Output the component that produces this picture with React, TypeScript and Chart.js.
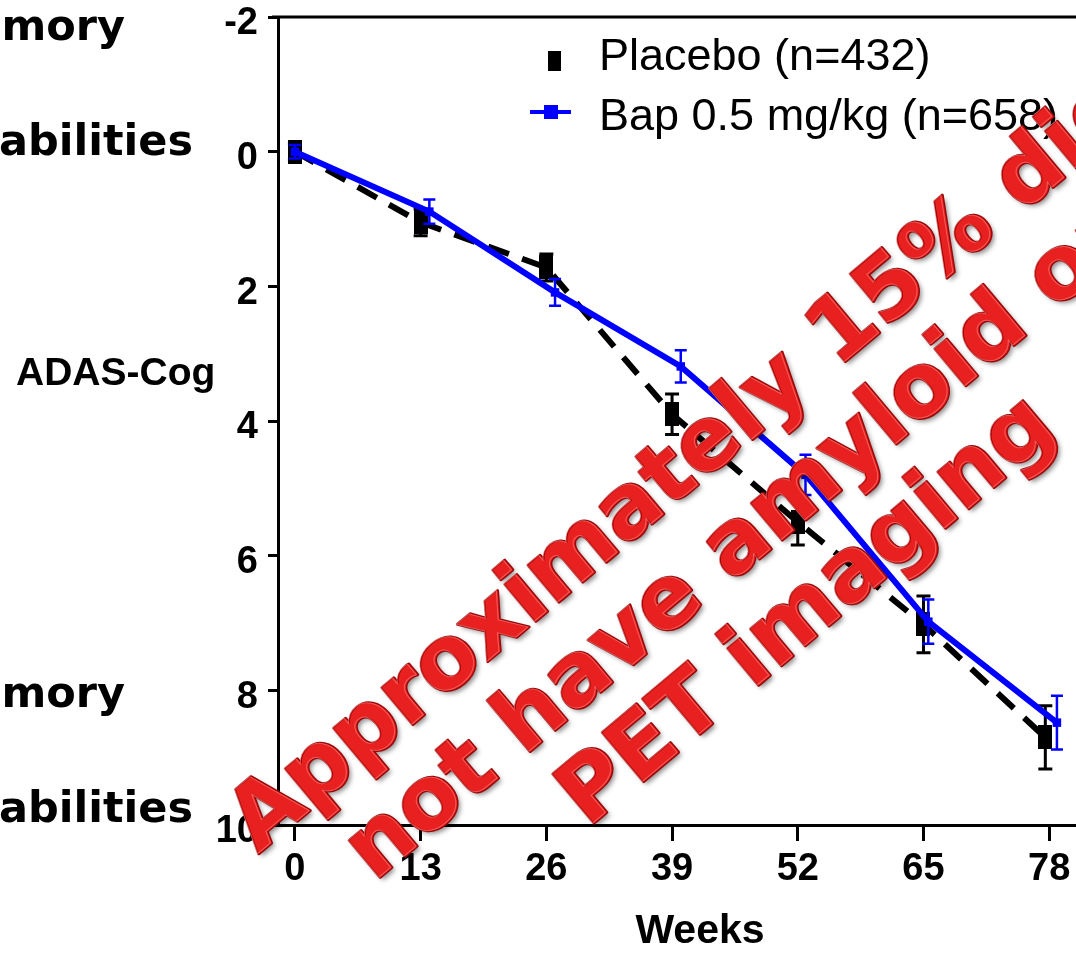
import React, { useEffect, useRef } from "react";
import { Chart, registerables } from "chart.js";
Chart.register(...registerables);

// ---- data ----
const weekTicks = [0, 13, 26, 39, 52, 65, 78];
const yTicks = [-2, 0, 2, 4, 6, 8, 10];
const placeboWeeks = [0, 13, 26, 39, 52, 65, 77.6];
const placeboMean = [0.0, 1.05, 1.72, 3.9, 5.5, 7.02, 8.7];
const placeboSE = [0.12, 0.2, 0.2, 0.3, 0.34, 0.42, 0.47];
const bapWeeks = [0, 13.9, 26.9, 39.9, 52.8, 65.5, 78.8];
const bapMean = [0.0, 0.89, 2.09, 3.19, 4.8, 6.98, 8.48];
const bapSE = [0.1, 0.18, 0.2, 0.24, 0.3, 0.33, 0.4];
const seriesLabels = ["Placebo (n=432)", "Bap 0.5 mg/kg (n=658)"];
const yAxisTitle = "ADAS-Cog";
const xAxisTitle = "Weeks";
const sideLabels = ["mory", "abilities", "mory", "abilities"];
const watermarkLines = ["Approximately 15% did", "not have amyloid on", "PET imaging"];

const ARIAL = '"Liberation Sans", Arial, sans-serif';
const VERDANA = '"DejaVu Sans", Verdana, sans-serif';

export default function App() {
  const ref = useRef<HTMLCanvasElement | null>(null);

  useEffect(() => {
    const canvas = ref.current;
    if (!canvas) return;

    const rectMarker = document.createElement("canvas");
    rectMarker.width = 14;
    rectMarker.height = 24;
    const rc = rectMarker.getContext("2d")!;
    rc.fillStyle = "#000";
    rc.fillRect(0, 0, 14, 24);

    const errorBars = {
      id: "errorBars",
      afterDatasetDraw(chart: any, args: any) {
        const ds = chart.data.datasets[args.index];
        const errs: number[] = ds.errors;
        if (!errs) return;
        const ys = chart.scales.y;
        const ctx = chart.ctx;
        ctx.save();
        ctx.strokeStyle = ds.borderColor;
        ctx.lineWidth = ds.errWidth;
        args.meta.data.forEach((pt: any, j: number) => {
          const v = ds.data[j].y;
          const t = ys.getPixelForValue(v - errs[j]);
          const b = ys.getPixelForValue(v + errs[j]);
          const x = pt.x;
          ctx.beginPath();
          ctx.moveTo(x, t);
          ctx.lineTo(x, b);
          ctx.moveTo(x - ds.capHalf, t);
          ctx.lineTo(x + ds.capHalf, t);
          ctx.moveTo(x - ds.capHalf, b);
          ctx.lineTo(x + ds.capHalf, b);
          ctx.stroke();
        });
        ctx.restore();
      },
    };

    const annotations = {
      id: "annotations",
      afterDraw(chart: any) {
        const ctx = chart.ctx;
        const a = chart.chartArea;
        ctx.save();
        // top frame line
        ctx.strokeStyle = "#000";
        ctx.lineWidth = 3;
        ctx.beginPath();
        ctx.moveTo(a.left - 6, a.top);
        ctx.lineTo(a.right, a.top);
        ctx.stroke();

        // legend
        ctx.fillStyle = "#000";
        ctx.fillRect(548, 51, 13, 20);
        ctx.strokeStyle = "#0000ff";
        ctx.lineWidth = 4;
        ctx.beginPath();
        ctx.moveTo(530, 112);
        ctx.lineTo(571, 112);
        ctx.stroke();
        ctx.fillStyle = "#0000ff";
        ctx.fillRect(544, 105, 14, 14);
        ctx.fillStyle = "#000";
        ctx.font = `45px ${ARIAL}`;
        ctx.textAlign = "left";
        ctx.textBaseline = "alphabetic";
        ctx.fillText(seriesLabels[0], 599, 70);
        ctx.fillText(seriesLabels[1], 599, 130);

        // side labels
        ctx.font = `bold 43px ${VERDANA}`;
        ctx.textAlign = "right";
        ctx.fillText(sideLabels[0], 125, 40);
        ctx.fillText(sideLabels[1], 193, 155);
        ctx.fillText(sideLabels[2], 125, 707);
        ctx.fillText(sideLabels[3], 193, 822);

        // axis titles
        ctx.font = `bold 39px ${ARIAL}`;
        ctx.textAlign = "left";
        ctx.fillText(yAxisTitle, 16, 385);
        ctx.font = `bold 41px ${ARIAL}`;
        ctx.textAlign = "center";
        ctx.fillText(xAxisTitle, 700, 943);

        // watermark
        ctx.translate(762, 557);
        ctx.rotate((-40 * Math.PI) / 180);
        ctx.font = `bold 88px ${VERDANA}`;
        ctx.textAlign = "center";
        ctx.textBaseline = "alphabetic";
        ctx.lineJoin = "round";
        watermarkLines.forEach((line, i) => {
          const y = (i - 1) * 96;
          ctx.save();
          ctx.shadowColor = "rgba(0,0,0,0.45)";
          ctx.shadowBlur = 5;
          ctx.shadowOffsetX = 3;
          ctx.shadowOffsetY = 3;
          ctx.fillStyle = "#c41212";
          ctx.fillText(line, 0, y);
          ctx.restore();
          ctx.strokeStyle = "#9a0808";
          ctx.lineWidth = 3;
          ctx.strokeText(line, 0, y);
          ctx.fillStyle = "#e8201f";
          ctx.fillText(line, 0, y);
          ctx.strokeStyle = "rgba(255,140,140,0.55)";
          ctx.lineWidth = 1;
          ctx.strokeText(line, -1, y - 1);
        });
        ctx.restore();
      },
    };

    const chart = new Chart(canvas, {
      type: "line",
      data: {
        datasets: [
          {
            label: seriesLabels[1],
            data: bapWeeks.map((x, i) => ({ x, y: bapMean[i] })),
            borderColor: "#0000ff",
            backgroundColor: "#0000ff",
            borderWidth: 6,
            pointStyle: "rect",
            pointRadius: 6,
            pointBorderWidth: 0,
            order: 0,
            errors: bapSE,
            errWidth: 2.5,
            capHalf: 6,
          } as any,
          {
            label: seriesLabels[0],
            data: placeboWeeks.map((x, i) => ({ x, y: placeboMean[i] })),
            borderColor: "#000000",
            backgroundColor: "#000000",
            borderWidth: 6,
            borderDash: [22, 14],
            pointStyle: rectMarker,
            pointRadius: 10,
            order: 1,
            errors: placeboSE,
            errWidth: 3,
            capHalf: 7,
          } as any,
        ],
      },
      options: {
        animation: false,
        responsive: false,
        maintainAspectRatio: false,
        layout: { padding: { top: 17, left: 0, right: 0, bottom: 0 } },
        plugins: { legend: { display: false }, tooltip: { enabled: false } },
        scales: {
          x: {
            type: "linear",
            min: -1.75,
            max: 81.6,
            afterBuildTicks: (s: any) => {
              s.ticks = weekTicks.map((v) => ({ value: v }));
            },
            afterFit: (s: any) => {
              s.height = 128;
              s.paddingLeft = 0;
              s.paddingRight = 0;
            },
            grid: { display: true, drawOnChartArea: false, tickLength: 16, tickWidth: 3, tickColor: "#000" },
            border: { display: true, width: 3, color: "#000" },
            ticks: {
              color: "#000",
              font: { family: ARIAL, size: 38, weight: "bold" },
              padding: 6,
              maxRotation: 0,
              autoSkip: false,
            },
          },
          y: {
            type: "linear",
            reverse: true,
            min: -2,
            max: 10,
            afterBuildTicks: (s: any) => {
              s.ticks = yTicks.map((v) => ({ value: v }));
            },
            afterFit: (s: any) => {
              s.width = 278;
              s.paddingTop = 0;
              s.paddingBottom = 0;
            },
            grid: { display: true, drawOnChartArea: false, tickLength: 10, tickWidth: 3, tickColor: "#000" },
            border: { display: true, width: 3, color: "#000" },
            ticks: {
              color: "#000",
              font: { family: ARIAL, size: 38, weight: "bold" },
              padding: 10,
              labelOffset: 7,
              autoSkip: false,
            },
          },
        },
      } as any,
      plugins: [errorBars, annotations],
    });

    return () => chart.destroy();
  }, []);

  return (
    <div style={{ position: "fixed", left: 0, top: 0, width: 1076, height: 953, overflow: "hidden", background: "#fff" }}>
      <canvas ref={ref} width={1100} height={953} style={{ width: 1100, height: 953, display: "block" }} />
    </div>
  );
}
